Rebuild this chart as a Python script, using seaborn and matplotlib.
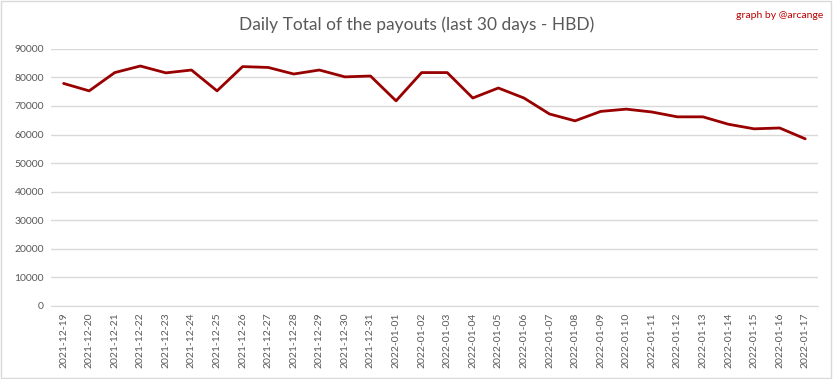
import pandas as pd
import matplotlib.pyplot as plt
import seaborn as sns

# Daily payouts in HBD
dates = ["2021-12-19", "2021-12-20", "2021-12-21", "2021-12-22", "2021-12-23",
         "2021-12-24", "2021-12-25", "2021-12-26", "2021-12-27", "2021-12-28",
         "2021-12-29", "2021-12-30", "2021-12-31", "2022-01-01", "2022-01-02",
         "2022-01-03", "2022-01-04", "2022-01-05", "2022-01-06", "2022-01-07",
         "2022-01-08", "2022-01-09", "2022-01-10", "2022-01-11", "2022-01-12",
         "2022-01-13", "2022-01-14", "2022-01-15", "2022-01-16", "2022-01-17"]
payouts = [77900, 75300, 81700, 84000, 81600, 82600, 75300, 83800, 83500, 81200,
           82600, 80200, 80500, 71800, 81700, 81700, 72800, 76300, 72800, 67200,
           64800, 68100, 68900, 67900, 66200, 66200, 63600, 62000, 62300, 58500]
yticks = list(range(0, 90001, 10000))

df = pd.DataFrame({"Date": dates, "Payout": payouts})

sns.set_style("white")
plt.rcParams["font.family"] = ["Lato", "DejaVu Sans"]

fig = plt.figure(figsize=(8.33, 3.79), dpi=100)
ax = fig.add_axes([0.061, 0.193, 0.921, 0.678])

sns.lineplot(x="Date", y="Payout", data=df, color="#990000", linewidth=2, ax=ax, sort=False)

ax.set_xlim(-0.5, len(dates) - 0.5)
ax.set_ylim(0, 90000)
ax.set_yticks(yticks)
ax.set_yticklabels([str(v) for v in yticks], fontsize=7.5, color="#595959")
ax.set_xticks(range(len(dates)))
ax.set_xticklabels(dates, rotation=90, fontsize=7.5, color="#595959")
ax.tick_params(axis="both", length=0, pad=5)
ax.grid(axis="y", color="#d9d9d9", linewidth=1)
ax.set_axisbelow(True)
for side in ["top", "right", "left"]:
    ax.spines[side].set_visible(False)
ax.spines["bottom"].set_color("#d9d9d9")
ax.set_xlabel("")
ax.set_ylabel("")

fig.text(0.5, 0.935, "Daily Total of the payouts (last 30 days - HBD)",
         ha="center", va="center", fontsize=12.5, color="#595959")
fig.text(0.988, 0.96, "graph by @arcange", ha="right", va="center",
         fontsize=7.5, color="#c00000")

# light border around the whole chart
fig.patches.append(plt.Rectangle((0.001, 0.002), 0.997, 0.995, transform=fig.transFigure,
                                 fill=False, edgecolor="#d9d9d9", linewidth=1))

fig.savefig("out.png", dpi=100)
